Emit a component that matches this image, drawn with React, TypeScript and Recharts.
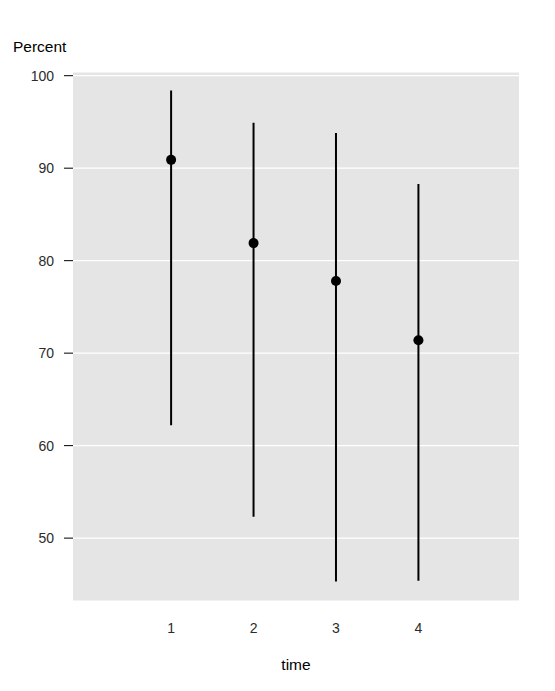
import {
  ComposedChart,
  Scatter,
  ErrorBar,
  XAxis,
  YAxis,
  CartesianGrid,
} from "recharts";

// time points and percent estimates with their interval ends
const times = [1, 2, 3, 4];
const percents = [90.9, 81.9, 77.8, 71.4];
const lows = [62.2, 52.3, 45.3, 45.4];
const highs = [98.4, 94.9, 93.8, 88.3];

const yTicks = [50, 60, 70, 80, 90, 100];

const data = times.map((t, i) => ({
  time: t,
  percent: percents[i],
  err: [percents[i] - lows[i], highs[i] - percents[i]],
}));

const FONT = "'Liberation Sans', Arial, sans-serif";

const Dot = (props: any) => {
  const { cx, cy } = props;
  if (cx == null || cy == null) return null;
  return <circle cx={cx} cy={cy} r={5} fill="#000" />;
};

export default function App() {
  return (
    <div
      style={{
        position: "absolute",
        left: 0,
        top: 0,
        width: 555,
        height: 691,
        background: "#fff",
        fontFamily: FONT,
      }}
    >
      <ComposedChart
        width={555}
        height={691}
        data={data}
        margin={{ top: 72, right: 36, left: 0, bottom: 0 }}
      >
        <CartesianGrid
          vertical={false}
          stroke="#fff"
          strokeWidth={1.2}
          fill="#e5e5e5"
        />
        <XAxis
          dataKey="time"
          type="number"
          domain={[-0.19, 5.22]}
          ticks={times}
          allowDataOverflow
          height={90}
          axisLine={false}
          tickLine={false}
          tickSize={0}
          tickMargin={22}
          tick={{ fill: "#2b2b2b", fontSize: 14, fontFamily: FONT }}
        />
        <YAxis
          type="number"
          domain={[43.2, 100.4]}
          ticks={yTicks}
          allowDataOverflow
          width={73}
          axisLine={false}
          tickLine={{ stroke: "#000", strokeWidth: 1 }}
          tickSize={9}
          tickMargin={10}
          tick={{ fill: "#2b2b2b", fontSize: 14, fontFamily: FONT }}
        />
        <Scatter
          dataKey="percent"
          fill="#000"
          shape={<Dot />}
          isAnimationActive={false}
        >
          <ErrorBar
            dataKey="err"
            direction="y"
            width={0}
            stroke="#000"
            strokeWidth={2}
            isAnimationActive={false}
          />
        </Scatter>
      </ComposedChart>
      <div
        style={{
          position: "absolute",
          left: 13,
          top: 38,
          fontSize: 15.5,
          color: "#000",
        }}
      >
        Percent
      </div>
      <div
        style={{
          position: "absolute",
          left: 73,
          width: 446,
          top: 656,
          textAlign: "center",
          fontSize: 15.5,
          color: "#000",
        }}
      >
        time
      </div>
    </div>
  );
}
